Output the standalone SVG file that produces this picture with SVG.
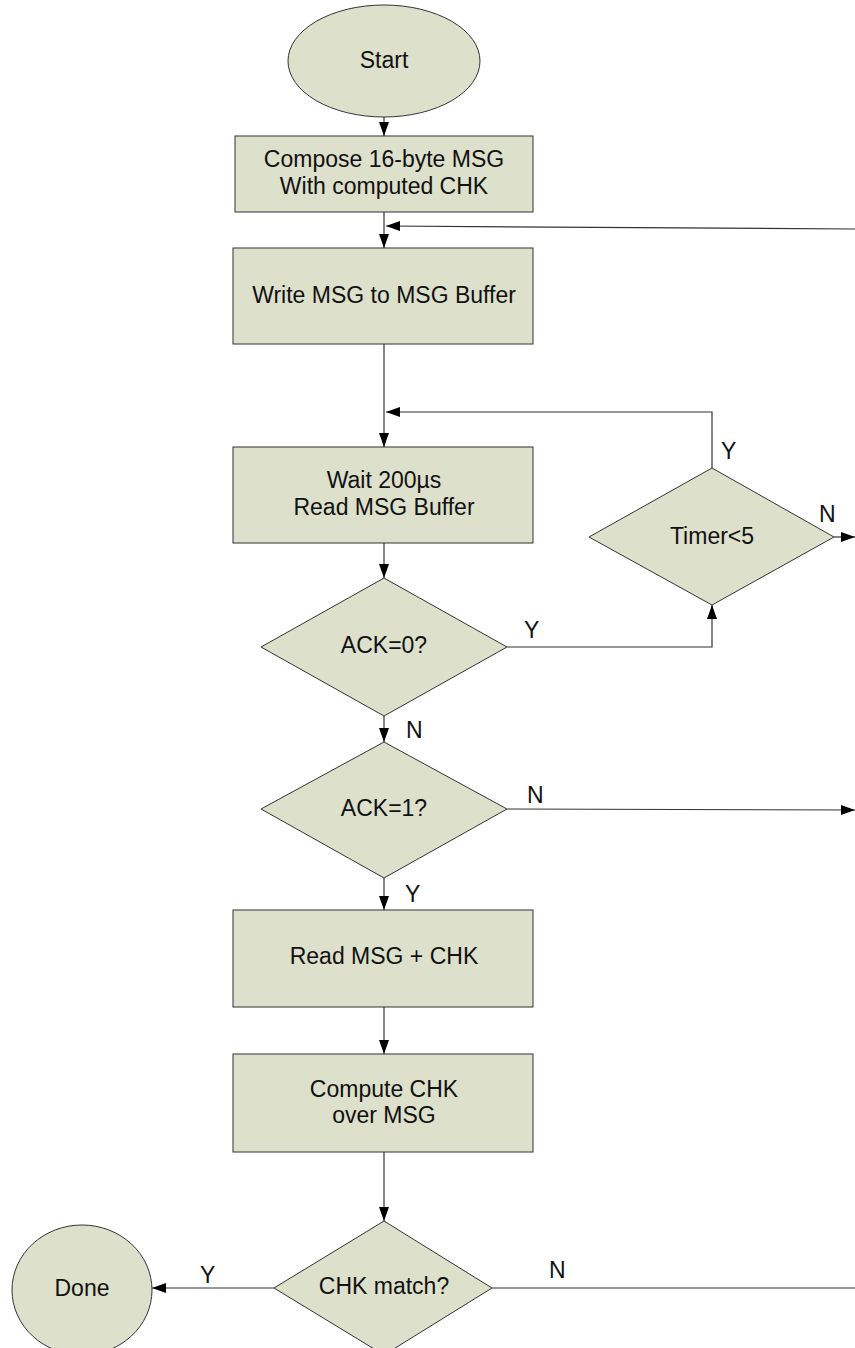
<svg xmlns="http://www.w3.org/2000/svg" width="855" height="1348" viewBox="0 0 855 1348">
<style>
.n{fill:#dde0cb;stroke:#333;stroke-width:1}
.t{font-family:"Liberation Sans",Arial,sans-serif;font-size:23px;fill:#111;text-anchor:middle}
.l{font-family:"Liberation Sans",Arial,sans-serif;font-size:23px;fill:#111}
.c{fill:none;stroke:#333;stroke-width:1.2}
</style>
<defs>
<marker id="a" viewBox="0 0 14 10" refX="14" refY="5" markerWidth="14" markerHeight="10" markerUnits="userSpaceOnUse" orient="auto">
<path d="M0,0 L14,5 L0,10 Z" fill="#000"/>
</marker>
</defs>
<rect width="855" height="1348" fill="#fff"/>
<g id="connectors">
<line class="c" x1="384" y1="117" x2="384" y2="136" marker-end="url(#a)"/>
<line class="c" x1="384" y1="212" x2="384" y2="248" marker-end="url(#a)"/>
<line class="c" x1="855" y1="229" x2="386" y2="226" marker-end="url(#a)"/>
<line class="c" x1="384" y1="344" x2="384" y2="447" marker-end="url(#a)"/>
<polyline class="c" points="712,468 712,412 386,412" marker-end="url(#a)"/>
<line class="c" x1="384" y1="543" x2="384" y2="578" marker-end="url(#a)"/>
<polyline class="c" points="507,647 712,647 712,605" marker-end="url(#a)"/>
<line class="c" x1="834" y1="537" x2="855" y2="537" marker-end="url(#a)"/>
<line class="c" x1="384" y1="716" x2="384" y2="742" marker-end="url(#a)"/>
<line class="c" x1="507" y1="809" x2="855" y2="810" marker-end="url(#a)"/>
<line class="c" x1="384" y1="878" x2="384" y2="910" marker-end="url(#a)"/>
<line class="c" x1="384" y1="1007" x2="384" y2="1054" marker-end="url(#a)"/>
<line class="c" x1="384" y1="1152" x2="384" y2="1221" marker-end="url(#a)"/>
<line class="c" x1="274" y1="1288" x2="152" y2="1288" marker-end="url(#a)"/>
<line class="c" x1="492" y1="1288" x2="855" y2="1288"/>
<text class="l" x="721" y="459">Y</text>
<text class="l" x="819" y="522">N</text>
<text class="l" x="524" y="638">Y</text>
<text class="l" x="406" y="738">N</text>
<text class="l" x="527" y="803">N</text>
<text class="l" x="405" y="902">Y</text>
<text class="l" x="200" y="1283">Y</text>
<text class="l" x="549" y="1278">N</text>
</g>
<g id="start"><ellipse class="n" cx="384" cy="61" rx="96" ry="56"/><text class="t" x="384" y="68">Start</text></g>
<g id="compose"><rect class="n" x="235" y="136" width="298" height="76"/><text class="t" x="384" y="167">Compose 16-byte MSG</text><text class="t" x="384" y="194">With computed CHK</text></g>
<g id="write"><rect class="n" x="233" y="248" width="300" height="96"/><text class="t" x="384" y="303">Write MSG to MSG Buffer</text></g>
<g id="wait"><rect class="n" x="233" y="447" width="300" height="96"/><text class="t" x="384" y="488">Wait 200µs</text><text class="t" x="384" y="515">Read MSG Buffer</text></g>
<g id="ack0"><polygon class="n" points="384,578 507,647 384,716 261,647"/><text class="t" x="384" y="653">ACK=0?</text></g>
<g id="timer"><polygon class="n" points="712,468 834,537 712,605 589,537"/><text class="t" x="712" y="544">Timer&lt;5</text></g>
<g id="ack1"><polygon class="n" points="384,742 507,809 384,878 261,809"/><text class="t" x="384" y="816">ACK=1?</text></g>
<g id="readmsg"><rect class="n" x="233" y="910" width="300" height="97"/><text class="t" x="384" y="964">Read MSG + CHK</text></g>
<g id="compute"><rect class="n" x="233" y="1054" width="300" height="98"/><text class="t" x="384" y="1097">Compute CHK</text><text class="t" x="384" y="1123">over MSG</text></g>
<g id="chkmatch"><polygon class="n" points="384,1221 492,1288 384,1355 274,1288"/><text class="t" x="384" y="1294">CHK match?</text></g>
<g id="done"><ellipse class="n" cx="82" cy="1290" rx="70" ry="65"/><text class="t" x="82" y="1296">Done</text></g>
</svg>
